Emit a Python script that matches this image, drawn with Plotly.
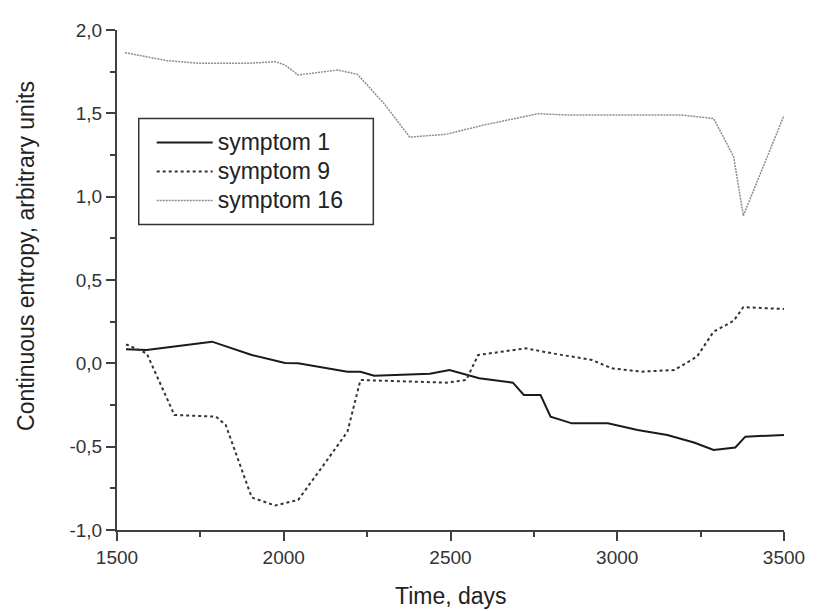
import plotly.graph_objects as go

series_names = ["symptom 1", "symptom 9", "symptom 16"]

# symptom 1 (solid)
days_s1 = [1527, 1589, 1666, 1785, 1904, 2004, 2043, 2191, 2230, 2271, 2438, 2497, 2586, 2687, 2720, 2770, 2800, 2864, 2972, 3061, 3150, 3230, 3289, 3354, 3384, 3500]
vals_s1 = [0.084, 0.08, 0.10, 0.13, 0.05, 0.002, 0.0, -0.05, -0.05, -0.075, -0.063, -0.04, -0.09, -0.116, -0.19, -0.19, -0.32, -0.36, -0.36, -0.40, -0.43, -0.475, -0.52, -0.505, -0.44, -0.43]

# symptom 9 (dashed)
days_s9 = [1527, 1589, 1672, 1797, 1826, 1904, 1974, 2043, 2123, 2191, 2230, 2488, 2547, 2583, 2726, 2805, 2924, 2984, 3073, 3171, 3239, 3289, 3349, 3378, 3500]
vals_s9 = [0.114, 0.06, -0.31, -0.32, -0.37, -0.805, -0.853, -0.82, -0.6, -0.41, -0.10, -0.116, -0.10, 0.05, 0.09, 0.06, 0.02, -0.03, -0.05, -0.04, 0.04, 0.19, 0.255, 0.337, 0.326]

# symptom 16 (dotted, light)
days_s16 = [1524, 1648, 1746, 1895, 1975, 2004, 2043, 2162, 2221, 2300, 2378, 2488, 2600, 2764, 2850, 3191, 3289, 3349, 3378, 3500]
vals_s16 = [1.864, 1.817, 1.80, 1.80, 1.81, 1.79, 1.73, 1.76, 1.734, 1.56, 1.357, 1.375, 1.43, 1.498, 1.49, 1.49, 1.469, 1.24, 0.886, 1.487]

x_ticks = [1500, 2000, 2500, 3000, 3500]
x_ticklabels = ["1500", "2000", "2500", "3000", "3500"]
y_ticks = [-1.0, -0.5, 0.0, 0.5, 1.0, 1.5, 2.0]
y_ticklabels = ["-1,0", "-0,5", "0,0", "0,5", "1,0", "1,5", "2,0"]

x_title = "Time, days"
y_title = "Continuous entropy, arbitrary units"

FONT = "Liberation Sans, Arial, sans-serif"
AX = "#404040"


def legend_label(name):
    return "<span style='font-size:23px'>" + name + "</span>"


fig = go.Figure()
fig.add_trace(go.Scatter(x=days_s1, y=vals_s1, mode="lines", name=legend_label(series_names[0]),
                         line=dict(color="#1a1a1a", width=2)))
fig.add_trace(go.Scatter(x=days_s9, y=vals_s9, mode="lines", name=legend_label(series_names[1]),
                         line=dict(color="#333333", width=2, dash="3px,3px")))
fig.add_trace(go.Scatter(x=days_s16, y=vals_s16, mode="lines", name=legend_label(series_names[2]),
                         line=dict(color="#8c8c8c", width=1.5, dash="2px,1px")))

# page has an 8px body margin, so the figure is 8px smaller than the window
fig.update_layout(
    width=809, height=603,
    margin=dict(l=109, r=26, t=13, b=81),
    paper_bgcolor="white", plot_bgcolor="white",
    font=dict(family=FONT, color="#333333"),
    showlegend=True,
    legend=dict(x=0.052, y=0.717, xanchor="left", yanchor="middle",
                borderwidth=0, bgcolor="rgba(0,0,0,0)",
                font=dict(size=20, color="#222222"), itemwidth=56,
                tracegroupgap=0),
    shapes=[dict(type="rect", xref="paper", yref="paper",
                 x0=0.0326, x1=0.3843, y0=0.611, y1=0.8232,
                 line=dict(color="#333333", width=1.5), fillcolor="white", layer="below")],
    xaxis=dict(range=[1500, 3500], tickvals=x_ticks, ticktext=x_ticklabels,
               showgrid=False, zeroline=False, showline=True, linecolor=AX, linewidth=2,
               ticks="outside", ticklen=9, tickwidth=2, tickcolor=AX,
               tickfont=dict(size=19, color="#333333"),
               minor=dict(dtick=250, tick0=1500, ticks="outside", ticklen=5, tickwidth=2, tickcolor=AX)),
    yaxis=dict(range=[-1.0, 2.0], tickvals=y_ticks, ticktext=y_ticklabels,
               showgrid=False, zeroline=False, showline=True, linecolor=AX, linewidth=2,
               ticks="outside", ticklen=9, tickwidth=2, tickcolor=AX,
               tickfont=dict(size=19, color="#333333"),
               minor=dict(dtick=0.25, tick0=-1.0, ticks="outside", ticklen=5, tickwidth=2, tickcolor=AX)),
    annotations=[
        dict(text=x_title, xref="paper", yref="paper", x=0.5, y=-0.1316,
             xanchor="center", yanchor="middle", showarrow=False,
             font=dict(size=23, color="#222222")),
        dict(text=y_title, xref="paper", yref="paper", x=-0.1365, y=0.548,
             xanchor="center", yanchor="middle", textangle=-90, showarrow=False,
             font=dict(size=23, color="#222222")),
    ],
)

fig.write_html("out.html")
